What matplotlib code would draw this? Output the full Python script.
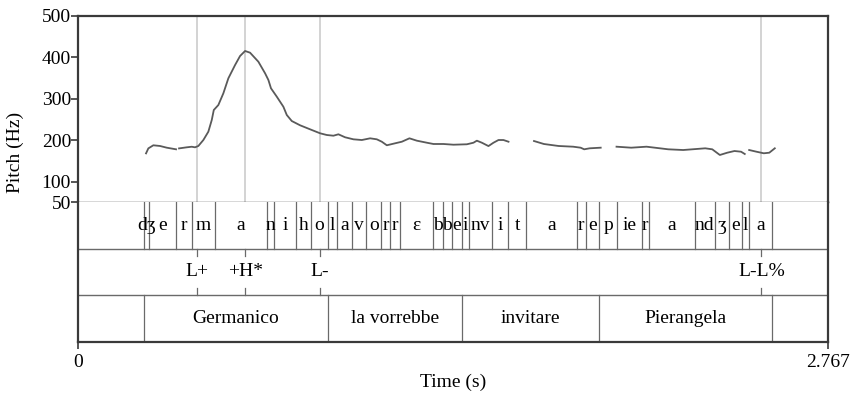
import numpy as np
import matplotlib.pyplot as plt

plt.rcParams['font.family'] = ['Liberation Serif', 'DejaVu Serif']

t_end = 2.767

# pitch track (s, Hz), one list per voiced stretch
seg_times = [
    [0.2510, 0.2595, 0.2779, 0.3026, 0.3274, 0.3617],
    [0.3728, 0.4012, 0.4196, 0.4318, 0.4440, 0.4625, 0.4809, 0.4935, 0.5010,
     0.5178, 0.5363, 0.5547, 0.5795, 0.5979, 0.6164, 0.6348, 0.6655, 0.6902,
     0.7024, 0.7120, 0.7334, 0.7577, 0.7703, 0.7887, 0.8194, 0.8563, 0.8932,
     0.9179, 0.9423, 0.9607, 0.9854, 1.0161, 1.0471, 1.0777, 1.1024, 1.1209,
     1.1393, 1.1700, 1.1947, 1.2228, 1.2501, 1.2870, 1.3114, 1.3483, 1.3852,
     1.4346, 1.4590, 1.4715, 1.4900, 1.5143, 1.5328, 1.5513, 1.5697, 1.5882],
    [1.6823, 1.7188, 1.7731, 1.8269, 1.8543, 1.8675, 1.8878, 1.9284],
    [1.9868, 2.0410, 2.0975, 2.1776, 2.2329, 2.3141, 2.3400, 2.3680, 2.3953,
     2.4219, 2.4463, 2.4599],
    [2.4762, 2.5031, 2.5301, 2.5504, 2.5707],
]
seg_hz = [
    [168, 180, 187.5, 185.8, 181.7, 177.8],
    [180, 182.6, 184, 182.6, 185.8, 200.2, 220.3, 248.5, 272.6,
     284.6, 312.9, 349, 381.1, 402.8, 414.9, 410.8, 389, 361.1,
     345, 324.9, 304.7, 280.5, 260.5, 246, 235.7, 226, 216.4,
     212.3, 210.6, 214, 206.8, 201.9, 200.2, 204.3, 201.9, 196.1,
     187.5, 192.3, 196.1, 204.3, 198.6, 193.7, 190.6, 190.6, 188.9,
     189.9, 193.7, 198.6, 193.7, 185.6, 193.7, 200.2, 200.2, 196.1],
    [197.8, 190.6, 185.8, 184.1, 181.7, 177.8, 180.2, 181.7],
    [184.1, 181.7, 184.1, 177.8, 176.1, 180.2, 177.8, 164.1, 169.6,
     173.7, 172, 166.5],
    [176.1, 172, 168.2, 169.6, 180.2],
]

# segment tier
phone_bounds = [0, 0.2425, 0.2620, 0.3606, 0.4196, 0.5056, 0.6965, 0.7245,
                0.8035, 0.8600, 0.9216, 0.9570, 1.0113, 1.0630, 1.1194, 1.1526,
                1.1884, 1.3102, 1.3460, 1.3793, 1.4162, 1.4442, 1.5280, 1.5870,
                1.6535, 1.8399, 1.8731, 1.9229, 1.9893, 2.0805, 2.1049, 2.2746,
                2.3492, 2.4001, 2.4507, 2.4739, 2.5614, t_end]
phone_labels = ['', 'dʒ', 'e', 'r', 'm', 'a', 'n', 'i', 'h', 'o', 'l', 'a',
                'v', 'o', 'r', 'r', 'ɛ', 'b', 'b', 'e', 'i', 'nv', 'i', 't',
                'a', 'r', 'e', 'p', 'ie', 'r', 'a', 'nd', 'ʒ', 'e', 'l', 'a', '']

# tone tier
tone_times = [0.4403, 0.6164, 0.8932, 2.5208]
tone_labels = ['L+', '+H*', 'L-', 'L-L%']

# word tier
word_bounds = [0, 0.2425, 0.9216, 1.4162, 1.9229, 2.5614, t_end]
word_labels = ['', 'Germanico', 'la vorrebbe', 'invitare', 'Pierangela', '']

W, H = 853, 393


def box(x0, y0, x1, y1):
    return [x0 / W, 1 - y1 / H, (x1 - x0) / W, (y1 - y0) / H]


fig = plt.figure(figsize=(W / 100, H / 100), dpi=100)
ax = fig.add_axes(box(78, 15.7, 828, 202.3))
tg = fig.add_axes(box(78, 202.3, 828, 341.7))

frame = '#3a3a3a'
line_c = '#6a6a6a'
fs = 14

# pitch panel
for t in tone_times:
    ax.axvline(t, color='#c8c8c8', lw=1.1, zorder=1)
for ts, hz in zip(seg_times, seg_hz):
    ax.plot(ts, hz, color='#5a5a5a', lw=1.3, zorder=2)
ax.set_xlim(0, t_end)
ax.set_ylim(50, 500)
ax.set_yticks([50, 100, 200, 300, 400, 500])
ax.set_xticks([])
ax.tick_params(axis='y', direction='out', length=5, width=1.2, color=frame,
               labelsize=fs, pad=0)
for s in ax.spines.values():
    s.set_color(frame)
    s.set_linewidth(1.6)
ax.spines['bottom'].set_linewidth(1.0)

# text grid
tg.set_xlim(0, t_end)
tg.set_ylim(0, 3)
tg.set_yticks([])
for y in (1, 2):
    tg.axhline(y, color=line_c, lw=1.0)

for b in phone_bounds[1:-1]:
    tg.plot([b, b], [2, 3], color=line_c, lw=0.9)
for i, lab in enumerate(phone_labels):
    mid = (phone_bounds[i] + phone_bounds[i + 1]) / 2
    tg.text(mid, 2.5, lab, ha='center', va='center', fontsize=fs)

for t, lab in zip(tone_times, tone_labels):
    tg.plot([t, t], [2, 1.84], color=line_c, lw=0.9)
    tg.plot([t, t], [1, 1.16], color=line_c, lw=0.9)
    tg.text(t, 1.5, lab, ha='center', va='center', fontsize=fs)

for b in word_bounds[1:-1]:
    tg.plot([b, b], [0, 1], color=line_c, lw=0.9)
for i, lab in enumerate(word_labels):
    mid = (word_bounds[i] + word_bounds[i + 1]) / 2
    tg.text(mid, 0.5, lab, ha='center', va='center', fontsize=fs)

for name, s in tg.spines.items():
    s.set_color(frame)
    s.set_linewidth(1.6)
tg.spines['top'].set_visible(False)
tg.set_xticks([0, t_end])
tg.set_xticklabels(['0', '2.767'])
tg.tick_params(axis='x', direction='out', length=5, width=1.2, color=frame,
               labelsize=fs, pad=4)
tg.set_xlabel('Time (s)', fontsize=fs, labelpad=2)

fig.text(15 / W, 1 - 152 / H, 'Pitch (Hz)', rotation=90, ha='center',
         va='center', fontsize=fs)

fig.savefig('out.png', dpi=100)
